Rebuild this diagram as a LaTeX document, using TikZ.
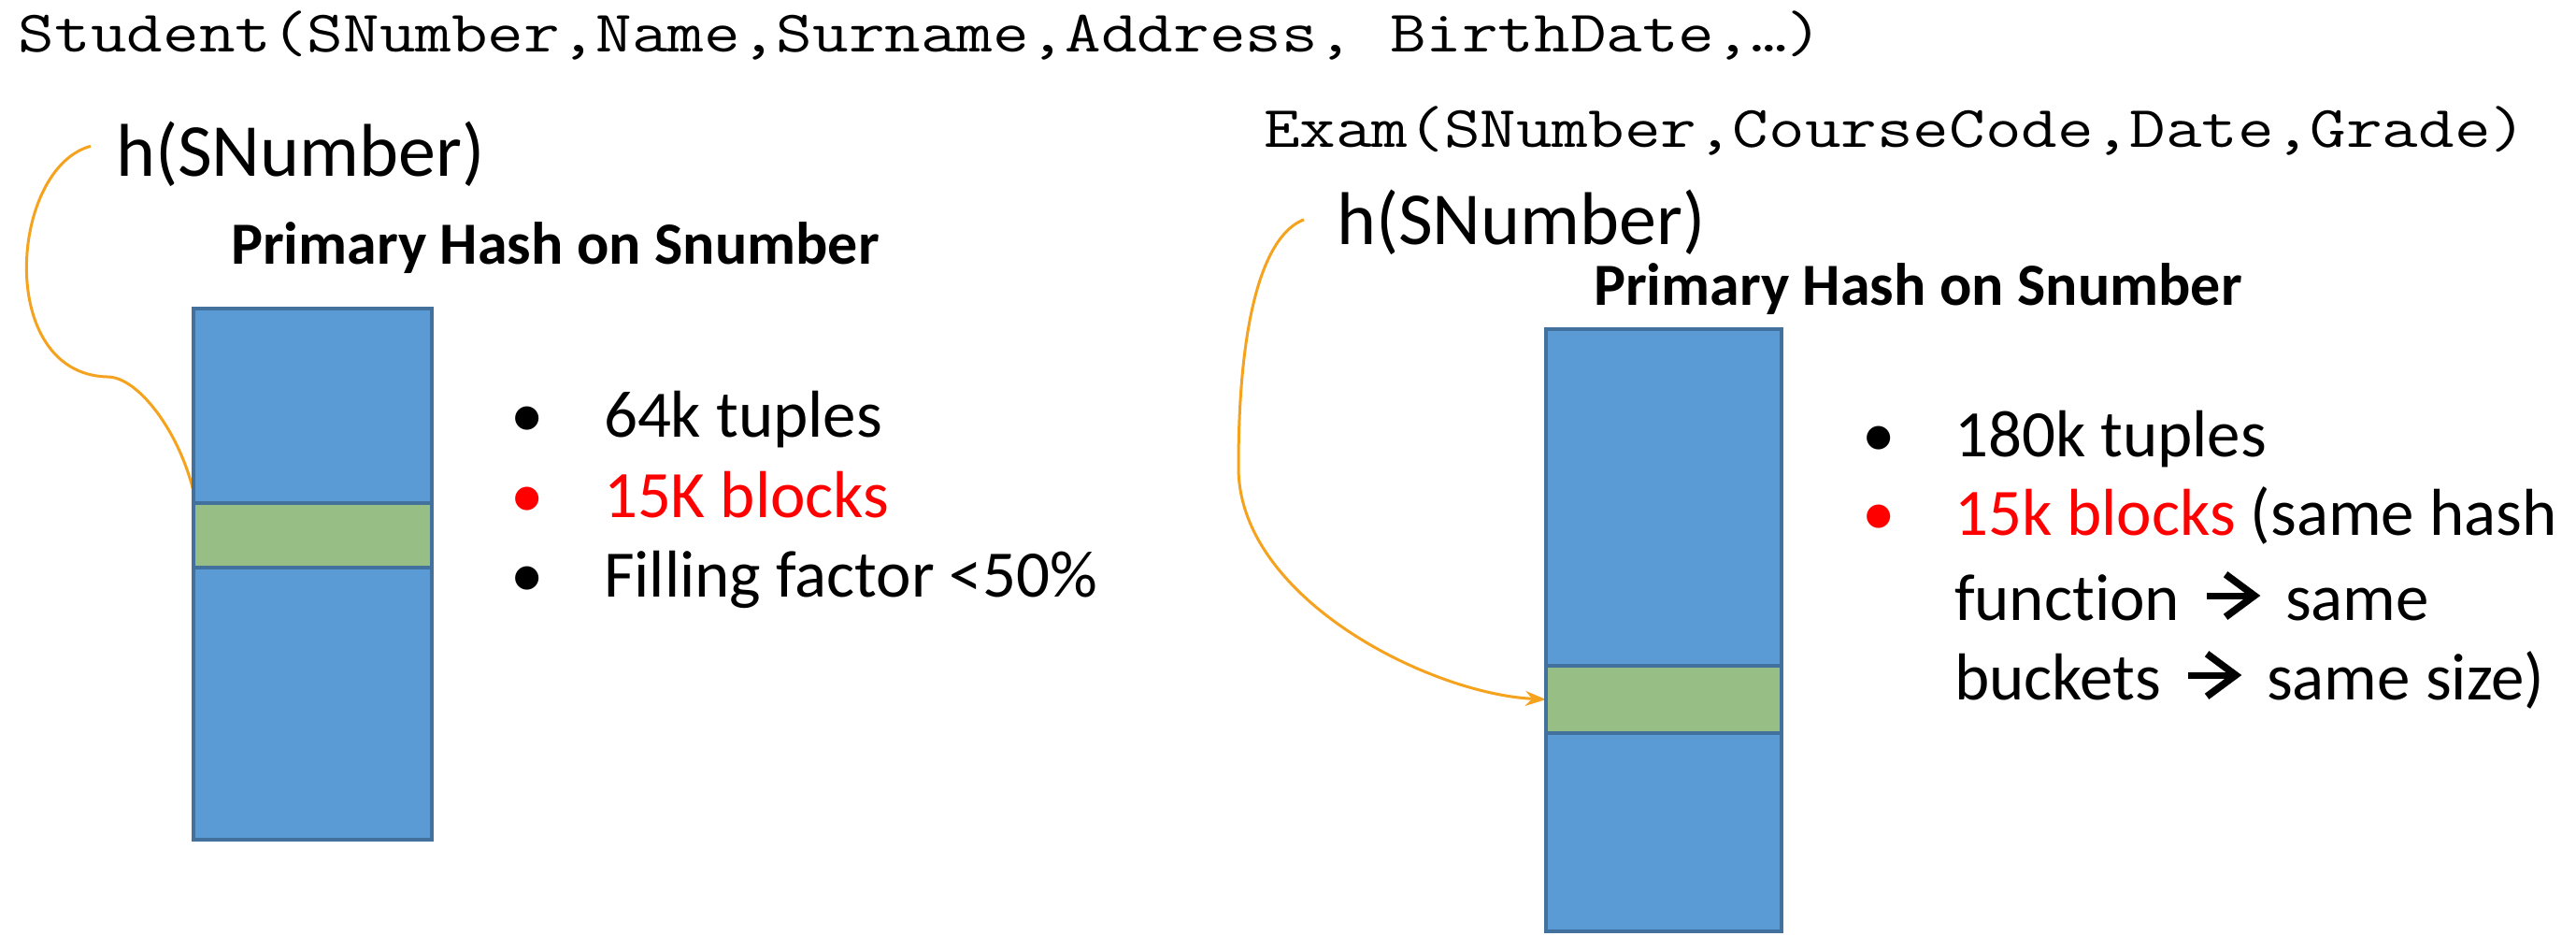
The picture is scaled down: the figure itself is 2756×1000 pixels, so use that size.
\documentclass[tikz,border=0pt]{standalone}
\usepackage{fontspec}
\setmainfont[Ligatures={NoCommon}]{Carlito}
\newfontfamily\monof[FakeStretch=1.19]{Latin Modern Mono}
\usetikzlibrary{arrows.meta}
\definecolor{boxblue}{RGB}{91,155,213}
\definecolor{boxline}{RGB}{65,113,156}
\definecolor{bandgreen}{RGB}{151,191,133}
\definecolor{hashorange}{RGB}{245,163,30}
\definecolor{hotred}{RGB}{255,0,0}
\begin{document}
\begin{tikzpicture}[x=0.25pt,y=-0.25pt,
  txt/.style={anchor=base west,inner sep=0pt,outer sep=0pt},
  mono/.style={txt,font=\monof\fontsize{15.75pt}{18pt}\selectfont},
  hfun/.style={txt,font=\fontsize{20pt}{24pt}\selectfont},
  titletext/.style={txt,font=\bfseries\fontsize{16pt}{19pt}\selectfont},
  itemtext/.style={txt,font=\fontsize{17.75pt}{21pt}\selectfont},
  bul/.style={anchor=base,inner sep=0pt,font=\fontsize{17.75pt}{21pt}\selectfont},
  bucket/.style={draw=boxline,line width=0.875pt,fill=boxblue,inner sep=0pt,outer sep=0pt},
  band/.style={draw=boxline,line width=0.875pt,fill=bandgreen,inner sep=0pt,outer sep=0pt},
  hashline/.style={draw=hashorange,line width=0.75pt},
  wingarrow/.pic={
    \draw[line width=1.75pt] (0pt,6.5pt) -- (12pt,6.5pt);
    \draw[line width=1.9pt,line join=miter] (5pt,12.2pt) -- (12.7pt,6.5pt) -- (5pt,0.8pt);
  }
]
\useasboundingbox[fill=white] (0,0) rectangle (2756,1000);

% relation schemas
\node[mono] (stud) at (20,55) {Student(SNumber,Name,Surname,Address, BirthDate,…)};
\node[mono] (exam) at (1352,157) {Exam(SNumber,CourseCode,Date,Grade)};

% hash function labels
\node[hfun] (hL) at (124,188) {h(SNumber)};
\node[hfun] (hR) at (1430,261) {h(SNumber)};

% titles
\node[titletext] (tL) at (247,282) {Primary Hash on Snumber};
\node[titletext] (tR) at (1705,326) {Primary Hash on Snumber};

% connectors (drawn first so that the buckets cover their ends)
\draw[hashline] ([xshift=-6.75pt,yshift=2pt]hL.west)
  .. controls (10,180) and (-5,400) .. (115,403)
  .. controls (150,403) and (198,470) .. (210,540);
\draw[hashline,-{Stealth[length=5.5pt,width=4pt]}] ([xshift=-8.75pt,yshift=0.6pt]hR.west)
  .. controls (1355,250) and (1325,330) .. (1325,500)
  .. controls (1325,640) and (1530,742) .. (1654,748);

% buckets
\node[bucket,minimum width=63.75pt,minimum height=142pt] (boxL) at (334.5,614) {};
\node[band,minimum width=63.75pt,minimum height=17.25pt] (gL) at (334.5,572.5) {};
\node[bucket,minimum width=63pt,minimum height=161pt] (boxR) at (1780,674) {};
\node[band,minimum width=63pt,minimum height=18pt] (gR) at (1780,748) {};

% left list
\node[bul] (bL1) at (564,467) {•};
\node[bul,text=hotred] (bL2) at (564,553) {•};
\node[bul] (bL3) at (564,638) {•};
\node[itemtext] (iL1) at (646,467) {64k tuples};
\node[itemtext,text=hotred] (iL2) at (646,553) {15K blocks};
\node[itemtext] (iL3) at (646,638) {Filling factor <50\%};

% right list
\node[bul] (bR1) at (2010,488) {•};
\node[bul,text=hotred] (bR2) at (2010,572) {•};
\node[itemtext] (iR1) at (2091,488) {180k tuples};
\node[itemtext] (iR2) at (2091,572) {\textcolor{hotred}{15k blocks} (same hash};
\node[itemtext] (iR3a) at (2091,663) {function};
\pic at ([xshift=7.25pt]iR3a.base east) {wingarrow};
\node[itemtext] (iR3b) at ([xshift=28.25pt]iR3a.base east) {same};
\node[itemtext] (iR4a) at (2091,748) {buckets};
\pic at ([xshift=7.25pt]iR4a.base east) {wingarrow};
\node[itemtext] (iR4b) at ([xshift=28.25pt]iR4a.base east) {same size)};
\end{tikzpicture}
\end{document}
